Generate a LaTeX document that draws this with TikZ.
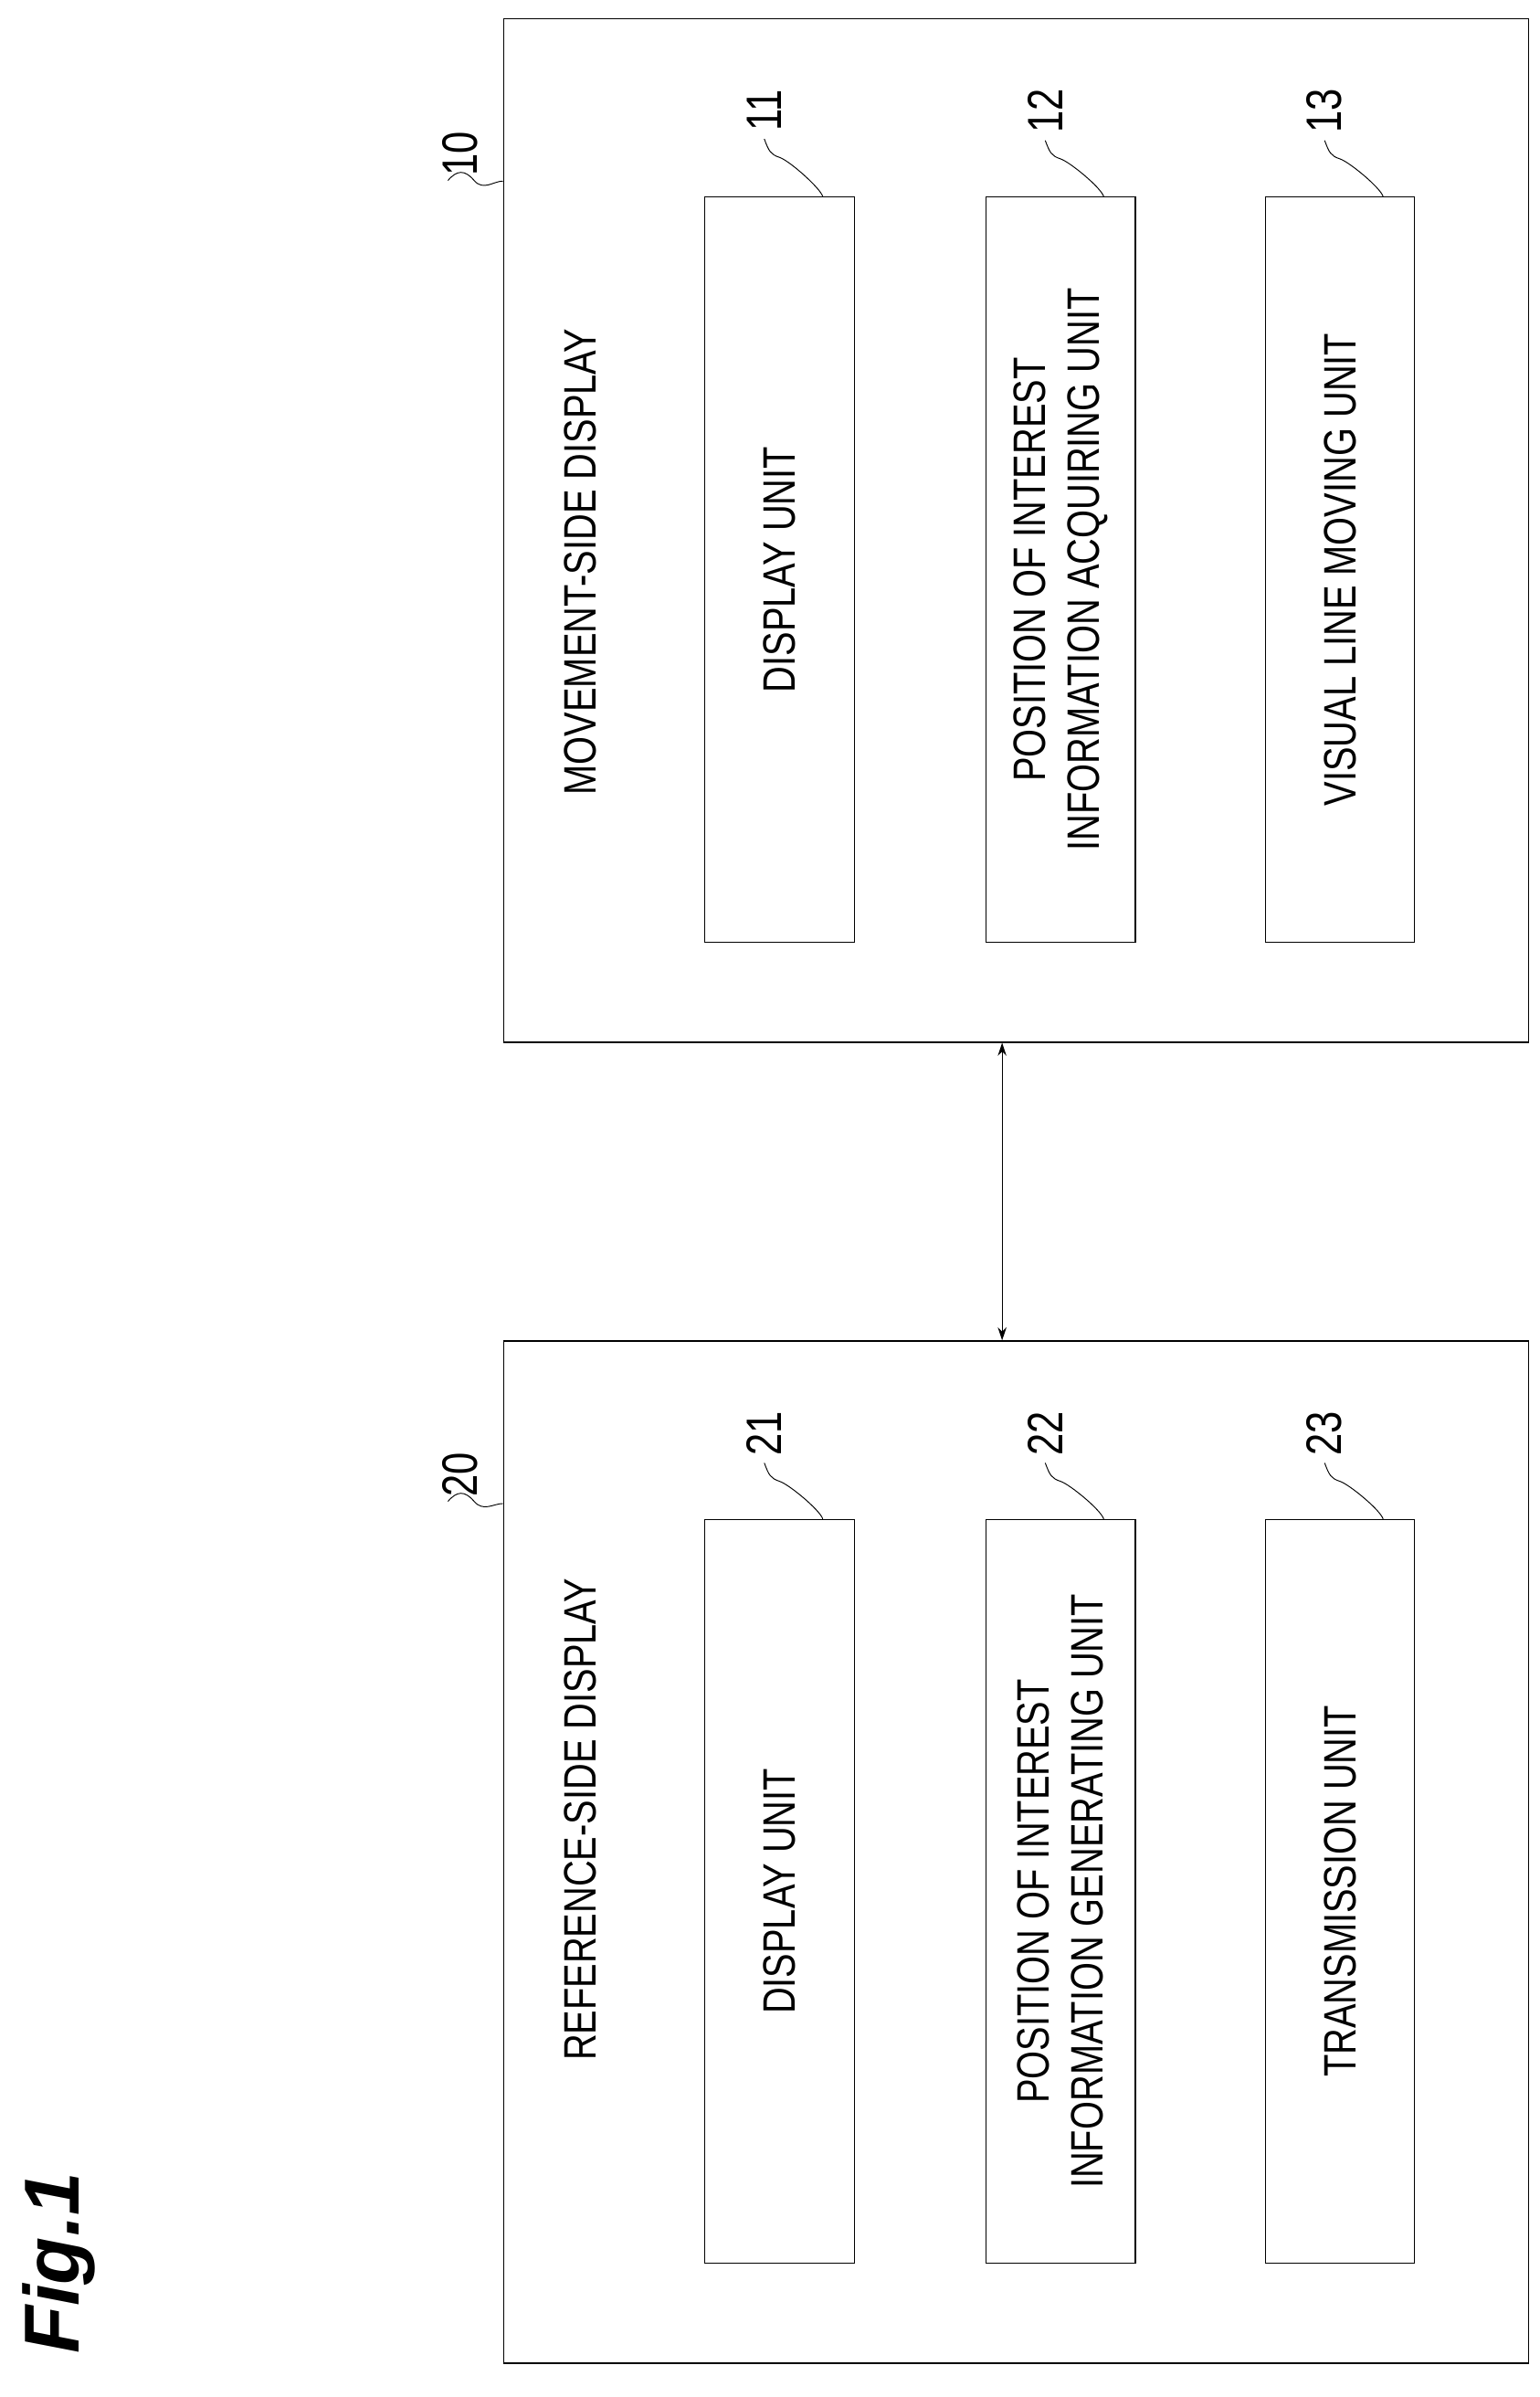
\documentclass[tikz,border=0pt]{standalone}
\usepackage{fontspec}
\setmainfont{Liberation Sans}
\newfontfamily\cndfont[FakeStretch=0.8]{Liberation Sans}
\usetikzlibrary{arrows.meta,positioning}
\tikzset{
  blk/.style={draw,line width=1pt,inner sep=0pt},
  txt/.style={rotate=90,align=center,font=\cndfont\fontsize{42}{50}\selectfont},
  num/.style={rotate=90,inner sep=1pt,font=\cndfont\fontsize{46}{50}\selectfont},
  lead/.style={line width=0.8pt}
}
\begin{document}
\begin{tikzpicture}[x=0.05cm,y=-0.05cm]
\useasboundingbox (0,0) rectangle (1000,1557);
% outer displays
\node[blk,minimum width=666*0.05cm,minimum height=665*0.05cm] (mov) at (660,344.5) {};
\node[blk,minimum width=666*0.05cm,minimum height=664*0.05cm] (ref) at (660,1203) {};
\node[txt] (movt) at (377,365) {MOVEMENT-SIDE DISPLAY};
\node[txt] (reft) at (377,1182) {REFERENCE-SIDE DISPLAY};
% units
\foreach \n/\xx/\lbl in {11/506.5/{DISPLAY UNIT},12/689/{POSITION OF INTEREST\\INFORMATION ACQUIRING UNIT},13/870.5/{VISUAL LINE MOVING UNIT}}{
  \node[blk,minimum width=97*0.05cm,minimum height=484*0.05cm] (u\n) at (\xx,370) {};
  \node[txt] at (u\n) {\lbl};
  \node[num] (n\n) at (\xx-10,72) {\n};
  \draw[lead] ([yshift=-0.2cm]n\n.west) .. controls +(3,8) and +(-6,-2) .. +(10,12) .. controls +(6,2) and +(-2,-6) .. ([xshift=1.4cm]u\n.north);
}
\foreach \n/\xx/\lbl in {21/506.5/{DISPLAY UNIT},22/689/{POSITION OF INTEREST\\INFORMATION GENERATING UNIT},23/870.5/{TRANSMISSION UNIT}}{
  \node[blk,minimum width=97*0.05cm,minimum height=483*0.05cm] (u\n) at (\xx,1228.5) {};
  \node[txt] at (u\n) {\lbl};
  \node[num] (n\n) at (\xx-10,931) {\n};
  \draw[lead] ([yshift=-0.2cm]n\n.west) .. controls +(3,8) and +(-6,-2) .. +(10,12) .. controls +(6,2) and +(-2,-6) .. ([xshift=1.4cm]u\n.north);
}
% reference numerals of displays
\node[num] (n10) at (299,100) {10};
\node[num] (n20) at (299,958) {20};
\draw[lead] ([xshift=-0.4cm,yshift=-0.1cm]n10.west) .. controls +(6,-7) and +(-6,-7) .. +(17,0) .. controls +(6,7) and +(-6,0) .. ([yshift=-5.3cm]mov.north west);
\draw[lead] ([xshift=-0.4cm,yshift=-0.1cm]n20.west) .. controls +(6,-7) and +(-6,-7) .. +(17,0) .. controls +(6,7) and +(-6,0) .. ([yshift=-5.3cm]ref.north west);
% link
\draw[line width=1pt,{Stealth[length=12pt,width=8pt]}-{Stealth[length=12pt,width=8pt]}] (mov.south-|651,0) -- (ref.north-|651,0);
\node[rotate=90,font=\fontsize{72}{78}\selectfont\bfseries\itshape] (fig) at (38,1470) {Fig.1};
\end{tikzpicture}
\end{document}
